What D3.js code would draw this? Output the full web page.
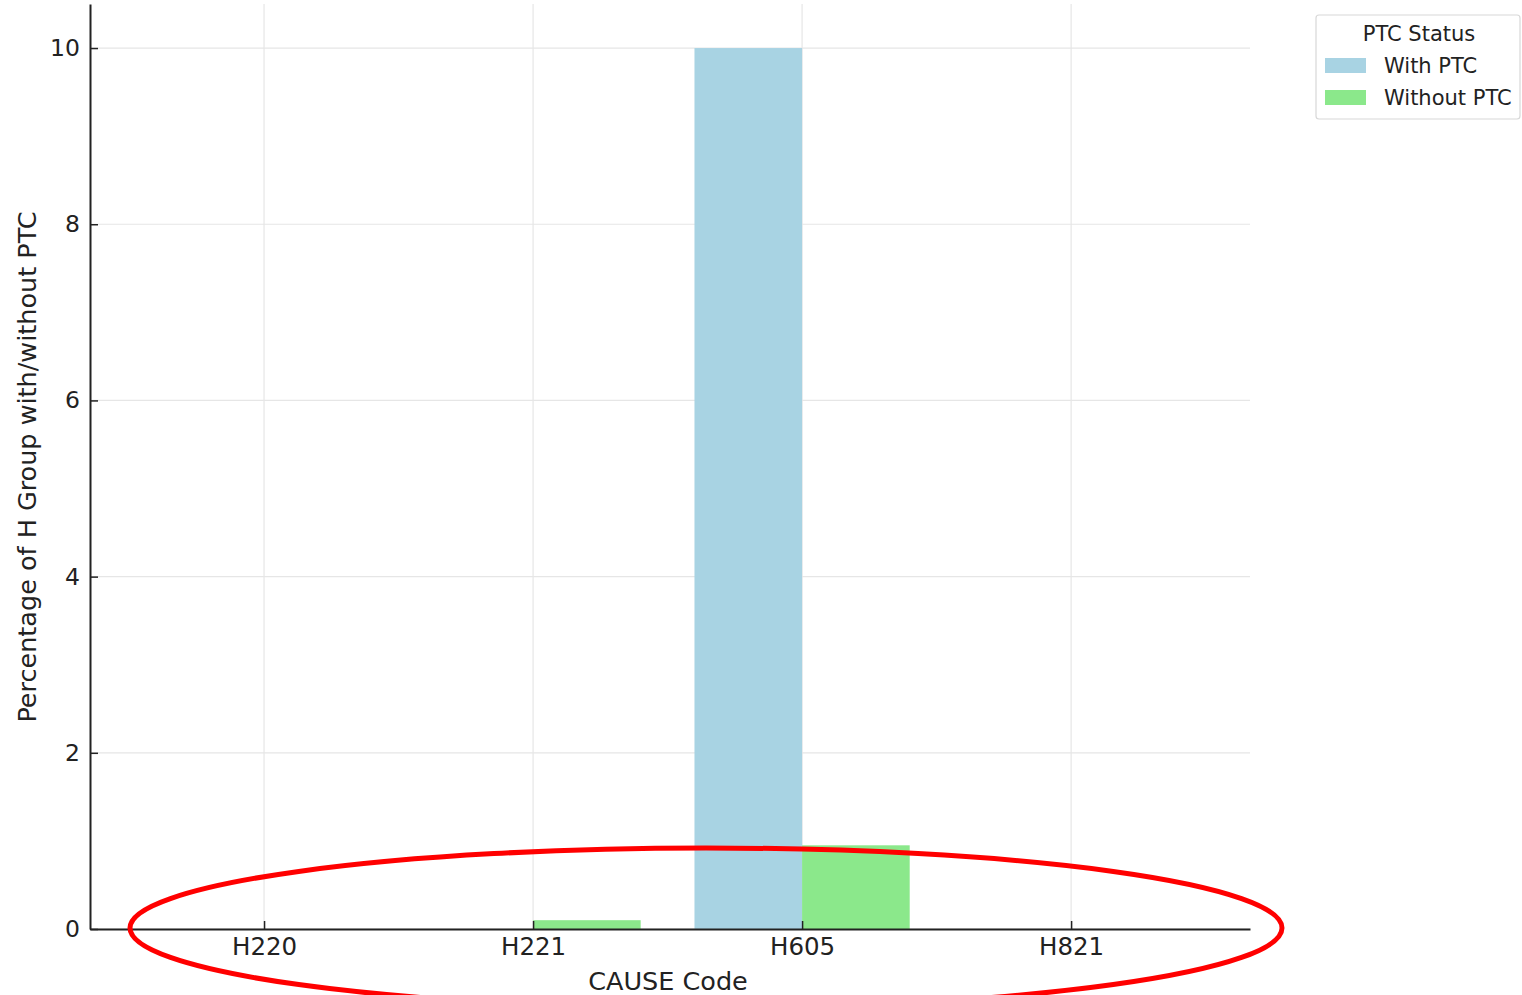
<!DOCTYPE html>
<html><head><meta charset="utf-8">
<script src="https://cdn.jsdelivr.net/npm/d3@7"></script>
<style>body{margin:0;background:#fff}svg{display:block}text{font-family:"DejaVu Sans",sans-serif;fill:#222}</style>
</head><body><svg id="c" width="1522" height="995"></svg>
<script>
const categories = ["H220","H221","H605","H821"];
const withPTC = [0, 0, 10.0, 0];
const withoutPTC = [0, 0.1, 0.95, 0];
const yTicks = [0,2,4,6,8,10];
const seriesNames = ["With PTC","Without PTC"];
const seriesColors = ["#a8d3e3","#8be88b"];

const svg = d3.select("#c");
const x = d3.scaleLinear().domain([-0.647, 3.665]).range([90, 1250]);
const y = d3.scaleLinear().domain([0, 10.5]).range([929, 4]);
const bw = 0.4;

// grid
const g = svg.append("g");
g.selectAll("line.hg").data(yTicks).join("line")
  .attr("x1", 90).attr("x2", 1250).attr("y1", d=>y(d)).attr("y2", d=>y(d))
  .attr("stroke", "#e6e6e6").attr("stroke-width", 1.2);
g.selectAll("line.vg").data(categories).join("line")
  .attr("x1", (d,i)=>x(i)).attr("x2", (d,i)=>x(i)).attr("y1", y(0)).attr("y2", y(10.5))
  .attr("stroke", "#e6e6e6").attr("stroke-width", 1.2);

// bars
const series = [withPTC, withoutPTC];
series.forEach((vals, s) => {
  svg.append("g").selectAll("rect").data(vals).join("rect")
    .attr("x", (d,i)=> x(i + (s===0 ? -bw : 0)))
    .attr("width", x(bw) - x(0))
    .attr("y", d => y(d))
    .attr("height", d => y(0) - y(d))
    .attr("fill", seriesColors[s]);
});

// axes
const xAxis = d3.axisBottom(x).tickValues(d3.range(categories.length))
  .tickFormat(i => categories[i]).tickSizeInner(-8).tickSizeOuter(0).tickPadding(9);
const xa = svg.append("g").attr("transform", `translate(0,${y(0)})`).call(xAxis);
xa.select(".domain").attr("stroke", "#222").attr("stroke-width", 2);
xa.selectAll(".tick line").attr("stroke", "#222").attr("stroke-width", 1.5);
xa.selectAll("text").attr("font-size", 24.5).attr("fill", "#222").attr("font-family", "DejaVu Sans");

const yAxis = d3.axisLeft(y).tickValues(yTicks).tickSizeInner(-8).tickSizeOuter(0).tickPadding(10);
const ya = svg.append("g").attr("transform", `translate(90,0)`).call(yAxis);
ya.select(".domain").attr("stroke", "#222").attr("stroke-width", 2);
ya.selectAll(".tick line").attr("stroke", "#222").attr("stroke-width", 1.5);
ya.selectAll("text").attr("font-size", 23.5).attr("fill", "#222").attr("font-family", "DejaVu Sans");

// axis labels
svg.append("text").attr("x", 668).attr("y", 990).attr("text-anchor", "middle")
  .attr("font-size", 25.5).text("CAUSE Code");
svg.append("text").attr("transform", "translate(36,467) rotate(-90)").attr("text-anchor", "middle")
  .attr("font-size", 25.5).text("Percentage of H Group with/without PTC");

// legend
const lg = svg.append("g");
lg.append("rect").attr("x", 1316).attr("y", 15).attr("width", 204).attr("height", 104)
  .attr("fill", "#fff").attr("stroke", "#d8d8d8").attr("stroke-width", 1.2).attr("rx", 3);
lg.append("text").attr("x", 1419).attr("y", 41).attr("text-anchor", "middle").attr("font-size", 21).attr("fill", "#333").text("PTC Status");
seriesNames.forEach((n, i) => {
  lg.append("rect").attr("x", 1325).attr("y", 58 + i*32).attr("width", 41).attr("height", 15).attr("fill", seriesColors[i]);
  lg.append("text").attr("x", 1384).attr("y", 73 + i*32).attr("font-size", 21).attr("fill", "#333").text(n);
});

// red annotation ellipse
svg.append("ellipse").attr("cx", 706).attr("cy", 928).attr("rx", 576).attr("ry", 80)
  .attr("fill", "none").attr("stroke", "#ff0000").attr("stroke-width", 5);
</script></body></html>
